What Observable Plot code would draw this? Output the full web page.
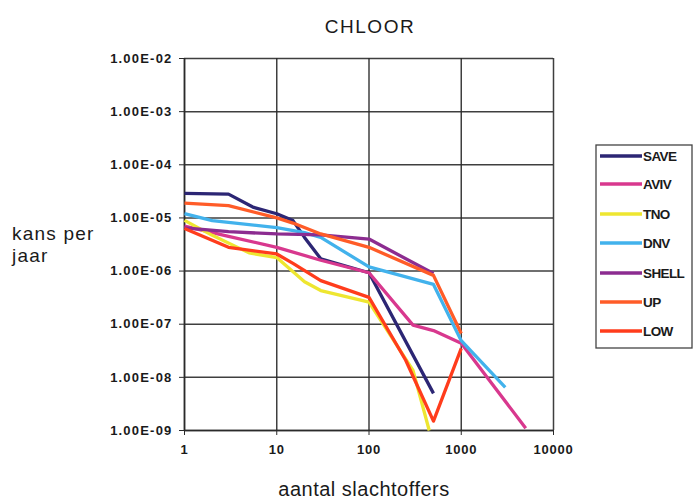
<!DOCTYPE html>
<html>
<head>
<meta charset="utf-8">
<script src="https://cdn.jsdelivr.net/npm/d3@7"></script>
<script src="https://cdn.jsdelivr.net/npm/@observablehq/plot@0.6"></script>
<style>
  html, body { margin: 0; padding: 0; background: #fff; }
  #chart svg { display: block; }
</style>
</head>
<body>
<div id="chart"></div>
<script>
const title = "CHLOOR";
const xLabel = "aantal slachtoffers";
const yLabelLines = ["kans per", "jaar"];

const xTicks = [1, 10, 100, 1000, 10000];
const xTickLabels = ["1", "10", "100", "1000", "10000"];
const yTicks = [1e-9, 1e-8, 1e-7, 1e-6, 1e-5, 1e-4, 1e-3, 1e-2];
const yTickLabels = ["1.00E-09", "1.00E-08", "1.00E-07", "1.00E-06", "1.00E-05", "1.00E-04", "1.00E-03", "1.00E-02"];

const seriesNames = ["SAVE", "AVIV", "TNO", "DNV", "SHELL", "UP", "LOW"];
const seriesColors = ["#2c2674", "#d8388e", "#eee630", "#42b2ec", "#8c2c90", "#ff5c28", "#ff3c1c"];

const saveX = [1, 3, 5.5, 10, 15, 20, 30, 100, 500];
const saveY = [2.9e-5, 2.8e-5, 1.6e-5, 1.2e-5, 8.9e-6, 4.3e-6, 1.7e-6, 9.3e-7, 5e-9];

const avivX = [1, 3, 10, 30, 100, 300, 500, 1000, 5000];
const avivY = [7e-6, 4.5e-6, 2.8e-6, 1.6e-6, 9.3e-7, 9.6e-8, 7.6e-8, 4.4e-8, 1.1e-9];

const tnoX = [1, 2, 5, 10, 20, 30, 100, 300, 450];
const tnoY = [9e-6, 4.7e-6, 2.2e-6, 1.8e-6, 6.3e-7, 4.3e-7, 2.6e-7, 1.35e-8, 1e-9];

const dnvX = [1, 2, 10, 20, 30, 100, 500, 1000, 3000];
const dnvY = [1.2e-5, 8.9e-6, 6.6e-6, 5.3e-6, 4.3e-6, 1.2e-6, 5.6e-7, 4.9e-8, 6.5e-9];

const shellX = [1, 3, 10, 30, 100, 500];
const shellY = [6.5e-6, 5.5e-6, 5e-6, 4.8e-6, 4e-6, 9e-7];

const upX = [1, 3, 10, 15, 30, 100, 500, 1000];
const upY = [1.9e-5, 1.7e-5, 1.0e-5, 8e-6, 5e-6, 2.8e-6, 8.3e-7, 6.7e-8];

const lowX = [1, 3, 10, 15, 30, 100, 250, 500, 1000];
const lowY = [6.3e-6, 2.8e-6, 2.1e-6, 1.4e-6, 6.6e-7, 3.2e-7, 2.1e-8, 1.5e-9, 3.5e-8];

const seriesX = [saveX, avivX, tnoX, dnvX, shellX, upX, lowX];
const seriesY = [saveY, avivY, tnoY, dnvY, shellY, upY, lowY];

const rows = [];
seriesNames.forEach((name, i) => {
  seriesX[i].forEach((x, j) => rows.push({series: name, x, y: seriesY[i][j]}));
});

const W = 694, H = 500;
const fontFamily = "'Liberation Sans', Arial, sans-serif";

const plot = Plot.plot({
  width: W,
  height: H,
  marginLeft: 184,
  marginRight: 141,
  marginTop: 58,
  marginBottom: 70,
  style: {fontFamily, fontSize: "13px", color: "#1a1a1a", background: "#fff"},
  x: {type: "log", domain: [1, 10000]},
  y: {type: "log", domain: [1e-9, 1e-2]},
  color: {domain: seriesNames, range: seriesColors},
  marks: [
    Plot.gridX(xTicks, {stroke: "#2a2a2a", strokeOpacity: 0.9, strokeWidth: 1.5}),
    Plot.gridY(yTicks, {stroke: "#2a2a2a", strokeOpacity: 0.9, strokeWidth: 1.5}),
    Plot.axisX(xTicks, {tickSize: 5, tickPadding: 9, label: null, tickFormat: (d) => xTickLabels[xTicks.indexOf(d)], fontSize: 13, fontWeight: "bold", stroke: "#2a2a2a"}),
    Plot.axisY(yTicks, {tickSize: 5, tickPadding: 7, label: null, tickFormat: (d) => yTickLabels[yTicks.indexOf(d)], fontSize: 13, fontWeight: "bold", stroke: "#2a2a2a"}),
    Plot.ruleX([1], {stroke: "#2a2a2a", strokeWidth: 1.5}),
    Plot.ruleY([1e-9], {stroke: "#2a2a2a", strokeWidth: 1.5}),
    Plot.line(rows, {x: "x", y: "y", z: "series", stroke: "series", strokeWidth: 3.3, strokeLinejoin: "round", strokeLinecap: "butt"})
  ]
});

document.getElementById("chart").appendChild(plot);

const svg = d3.select(plot);
svg.selectAll('g[aria-label="y-axis tick label"] text').attr("letter-spacing", "1.2");
svg.selectAll('g[aria-label="x-axis tick label"] text').attr("letter-spacing", "0.8");

svg.append("text")
  .attr("x", 370).attr("y", 33)
  .attr("text-anchor", "middle")
  .attr("font-family", fontFamily).attr("font-size", 19).attr("fill", "#1a1a1a")
  .attr("letter-spacing", "1.5")
  .text(title);

svg.append("text")
  .attr("x", 364).attr("y", 496)
  .attr("text-anchor", "middle")
  .attr("font-family", fontFamily).attr("font-size", 20).attr("fill", "#1a1a1a")
  .attr("letter-spacing", "0.5")
  .text(xLabel);

const yLabelBase = [240, 262];
yLabelLines.forEach((t, i) => {
  svg.append("text")
    .attr("x", 12).attr("y", yLabelBase[i])
    .attr("text-anchor", "start")
    .attr("font-family", fontFamily).attr("font-size", 19).attr("fill", "#1a1a1a")
    .attr("letter-spacing", "1.2")
    .text(t);
});

const legend = svg.append("g");
legend.append("rect")
  .attr("x", 596).attr("y", 145).attr("width", 96).attr("height", 203)
  .attr("fill", "#fff").attr("stroke", "#444").attr("stroke-width", 1.3);
const legendY = [156, 184, 214, 243, 273, 302, 331];
seriesNames.forEach((name, i) => {
  legend.append("line")
    .attr("x1", 600).attr("x2", 642).attr("y1", legendY[i]).attr("y2", legendY[i])
    .attr("stroke", seriesColors[i]).attr("stroke-width", 3.5);
  legend.append("text")
    .attr("x", 643).attr("y", legendY[i]).attr("dy", "0.35em")
    .attr("text-anchor", "start")
    .attr("font-family", fontFamily).attr("font-size", 13.5).attr("font-weight", "bold")
    .attr("fill", "#1a1a1a")
    .attr("letter-spacing", "-0.6")
    .text(name);
});
</script>
</body>
</html>
